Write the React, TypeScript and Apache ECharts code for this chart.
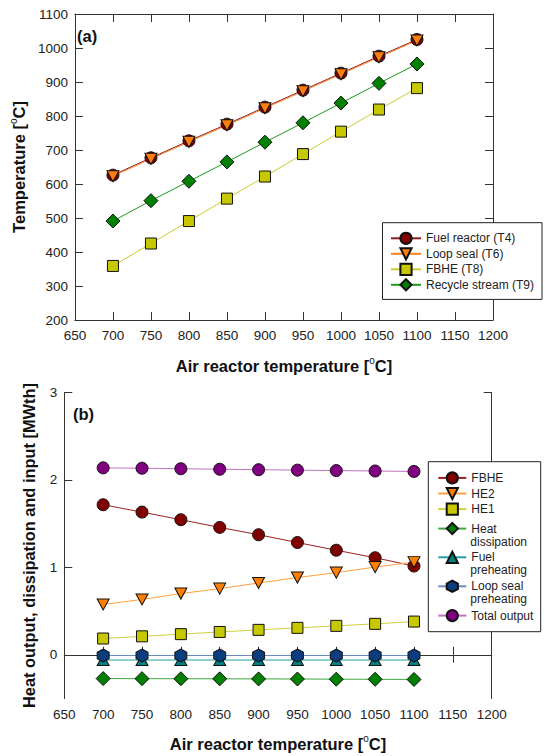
import React, { useEffect, useRef } from 'react';
import * as echarts from 'echarts';

const FONT = '"Liberation Sans", Arial, Helvetica, sans-serif';

// Air reactor temperature (x, °C)
const airTemps = [700, 750, 800, 850, 900, 950, 1000, 1050, 1100];

// (a) temperatures [°C]
const fuelReactorT4 = [626, 677, 727, 776, 826, 876, 926, 976, 1025];
const loopSealT6 = [623, 674, 724, 773, 823, 873, 923, 973, 1022];
const fbheT8 = [359, 425, 491, 557, 622, 688, 754, 819, 882];
const recycleT9 = [491, 551, 608, 665, 723, 780, 838, 896, 953];

// (b) heat output, dissipation and input [MWth]
const fbheHeat = [1.716, 1.632, 1.545, 1.457, 1.373, 1.284, 1.196, 1.11, 1.015];
const he2Heat = [0.576, 0.633, 0.7, 0.757, 0.821, 0.883, 0.94, 1.003, 1.06];
const he1Heat = [0.186, 0.211, 0.236, 0.261, 0.285, 0.308, 0.331, 0.354, 0.38];
const heatDissipation = [-0.272, -0.273, -0.274, -0.275, -0.276, -0.277, -0.279, -0.28, -0.282];
const fuelPreheating = [-0.06, -0.06, -0.06, -0.06, -0.06, -0.06, -0.06, -0.06, -0.06];
const loopSealPreheating = [-0.008, -0.008, -0.008, -0.008, -0.008, -0.008, -0.008, -0.008, -0.008];
const totalOutput = [2.138, 2.134, 2.128, 2.122, 2.117, 2.112, 2.107, 2.102, 2.097];

const xRange = [650, 1200];
const yRangeA = [200, 1100];
const yRangeB = [-0.5, 3];
const yLabelsB = [0, 1, 2, 3];

// legend labels that wrap onto a second line: [series name, first line, second line]
const wrappedLegend: [string, string, string][] = [
  ['Heat dissipation', 'Heat', 'dissipation'],
  ['Fuel preheating', 'Fuel', 'preheating'],
  ['Loop seal preheating', 'Loop seal', 'preheating'],
];

const DOWN_TRI = 'path://M-1,-0.87 L1,-0.87 L0,0.87 Z';
const HEXAGON = 'path://M0,-1 L0.866,-0.5 L0.866,0.5 L0,1 L-0.866,0.5 L-0.866,-0.5 Z';

const pairs = (ys: number[]) => airTemps.map((x, i) => [x, ys[i]]);

const axisLine = { show: true, lineStyle: { color: '#333', width: 1 } };
const axisTick = { show: true, inside: true, length: 8, lineStyle: { color: '#333', width: 1 } };
const labelStyle = { fontSize: 13.5, color: '#222', fontFamily: FONT, formatter: (v: number) => String(v) };
const nameStyle = (size: number) => ({
  fontSize: size,
  fontWeight: 'bold' as const,
  color: '#111',
  fontFamily: FONT,
  rich: {
    sup: { fontSize: 10, fontWeight: 'normal' as const, color: '#111', fontFamily: FONT, padding: [0, 0, 11, 0] },
  },
});

function mkSeries(
  name: string,
  ys: number[],
  xi: number,
  symbol: string,
  size: number | number[],
  fill: string,
  line: string
) {
  return {
    name,
    type: 'line',
    xAxisIndex: xi,
    yAxisIndex: xi,
    data: pairs(ys),
    symbol,
    symbolSize: size,
    showSymbol: true,
    lineStyle: { color: line, width: 1 },
    itemStyle: { color: fill, borderColor: '#111', borderWidth: 1 },
    emphasis: { disabled: true },
  };
}

export default function App() {
  const ref = useRef<HTMLDivElement>(null);
  useEffect(() => {
    if (!ref.current) return;
    const chart = echarts.init(ref.current, null, { renderer: 'svg' });

    const legendText = { fontSize: 12, color: '#222', fontFamily: FONT };
    const bLegendLeft = 437.3;
    const bItemWidth = 28;
    const bLegendBase = {
      orient: 'vertical',
      left: bLegendLeft,
      padding: 0,
      itemGap: 2.4,
      itemWidth: bItemWidth,
      itemHeight: 14,
      z: 6,
      textStyle: legendText,
    };
    // icon centre y positions for the wrapped items
    const wrappedCentres = [529, 557.7, 586.7];
    const wrappedLegends = wrappedLegend.map(([name, first], i) => ({
      ...bLegendBase,
      top: wrappedCentres[i] - 7,
      data: [name],
      formatter: () => first,
    }));
    const wrappedSecondLines = wrappedLegend.map(([, , second], i) => ({
      type: 'text',
      z: 7,
      x: bLegendLeft + bItemWidth + 5,
      y: wrappedCentres[i] + 12.5,
      style: { text: second, fontSize: 12, fill: '#222', fontFamily: FONT, verticalAlign: 'middle' },
    }));

    const option: any = {
      animation: false,
      backgroundColor: '#fff',
      grid: [
        { left: 65, top: 14, width: 428, height: 306 },
        { left: 64.3, top: 392.5, width: 427.4, height: 306 },
      ],
      xAxis: [
        {
          gridIndex: 0, type: 'value', position: 'bottom', min: xRange[0], max: xRange[1], interval: 50,
          axisLine, axisTick, splitLine: { show: false },
          axisLabel: { ...labelStyle, margin: 8 },
          name: 'Air reactor temperature [{sup|o}C]', nameLocation: 'middle', nameGap: 35,
          nameTextStyle: nameStyle(16.5),
        },
        {
          gridIndex: 0, type: 'value', position: 'top', min: xRange[0], max: xRange[1], interval: 50,
          axisLine, axisTick, splitLine: { show: false }, axisLabel: { show: false },
        },
        {
          gridIndex: 1, type: 'value', position: 'bottom', min: xRange[0], max: xRange[1], interval: 50,
          axisLine, axisTick, splitLine: { show: false },
          axisLabel: { ...labelStyle, margin: 9 },
          name: 'Air reactor temperature [{sup|o}C]', nameLocation: 'middle', nameGap: 35,
          nameTextStyle: nameStyle(16.5),
        },
        {
          gridIndex: 1, type: 'value', position: 'top', min: xRange[0], max: xRange[1], interval: 50,
          axisLine, axisTick, splitLine: { show: false }, axisLabel: { show: false },
        },
      ],
      yAxis: [
        {
          gridIndex: 0, type: 'value', position: 'left', min: yRangeA[0], max: yRangeA[1], interval: 100,
          axisLine, axisTick, splitLine: { show: false },
          axisLabel: { ...labelStyle, margin: 7 },
          name: 'Temperature [{sup|o}C]', nameLocation: 'middle', nameGap: 34,
          nameTextStyle: nameStyle(16.5),
        },
        {
          gridIndex: 0, type: 'value', position: 'right', min: yRangeA[0], max: yRangeA[1], interval: 100,
          axisLine, axisTick, splitLine: { show: false }, axisLabel: { show: false },
        },
        {
          gridIndex: 1, type: 'value', position: 'left', min: yRangeB[0], max: yRangeB[1], interval: 0.5,
          axisLine,
          axisTick: { ...axisTick, customValues: yLabelsB },
          splitLine: { show: false },
          axisLabel: { ...labelStyle, margin: 7, customValues: yLabelsB },
          name: 'Heat output, dissipation and input [MWth]', nameLocation: 'middle', nameGap: 27,
          nameTextStyle: { fontSize: 16.4, fontWeight: 'bold', color: '#111', fontFamily: FONT },
        },
        {
          gridIndex: 1, type: 'value', position: 'right', min: yRangeB[0], max: yRangeB[1], interval: 0.5,
          axisLine,
          axisTick: { ...axisTick, customValues: yLabelsB },
          splitLine: { show: false }, axisLabel: { show: false },
        },
      ],
      legend: [
        {
          orient: 'vertical',
          left: 382.5,
          top: 222.7,
          padding: [9, 8, 8, 7.5],
          itemGap: 2.3,
          itemWidth: 30,
          itemHeight: 14,
          borderColor: '#222',
          borderWidth: 1,
          borderRadius: 0,
          backgroundColor: '#fff',
          z: 6,
          textStyle: legendText,
          data: ['Fuel reactor (T4)', 'Loop seal (T6)', 'FBHE (T8)', 'Recycle stream (T9)'],
        },
        { ...bLegendBase, top: 471.3, data: ['FBHE', 'HE2', 'HE1'] },
        ...wrappedLegends,
        { ...bLegendBase, top: 609, data: ['Total output'] },
      ],
      graphic: [
        {
          type: 'rect', z: 5,
          shape: { x: 428.3, y: 461.7, width: 112.4, height: 170 },
          style: { fill: '#fff', stroke: '#222', lineWidth: 1 },
        },
        ...wrappedSecondLines,
        {
          type: 'text', left: 77, top: 27, z: 5,
          style: { text: '(a)', fontSize: 16.5, fontWeight: 'bold', fill: '#111', fontFamily: FONT },
        },
        {
          type: 'text', left: 73, top: 405, z: 5,
          style: { text: '(b)', fontSize: 16.5, fontWeight: 'bold', fill: '#111', fontFamily: FONT },
        },
      ],
      series: [
        mkSeries('Fuel reactor (T4)', fuelReactorT4, 0, 'circle', 12, '#800000', '#8b1c1c'),
        mkSeries('Loop seal (T6)', loopSealT6, 0, DOWN_TRI, [12, 11], '#ff7f0e', '#ff7f24'),
        mkSeries('FBHE (T8)', fbheT8, 0, 'rect', 11, '#c8c800', '#cccc30'),
        mkSeries('Recycle stream (T9)', recycleT9, 0, 'diamond', 14, '#008000', '#1c9a1c'),

        mkSeries('Total output', totalOutput, 2, 'circle', 12, '#800080', '#c070c0'),
        mkSeries('FBHE', fbheHeat, 2, 'circle', 12, '#800000', '#9b2020'),
        mkSeries('HE2', he2Heat, 2, DOWN_TRI, [12, 11], '#ff8000', '#ffa040'),
        mkSeries('HE1', he1Heat, 2, 'rect', 11, '#c8c800', '#d0d040'),
        mkSeries('Heat dissipation', heatDissipation, 2, 'diamond', 14, '#008000', '#40a840'),
        mkSeries('Fuel preheating', fuelPreheating, 2, 'triangle', [12, 11], '#008080', '#20a0a0'),
        mkSeries('Loop seal preheating', loopSealPreheating, 2, HEXAGON, [12, 13], '#0a3d7d', '#6a8cc0'),
      ],
    };
    chart.setOption(option);
    return () => chart.dispose();
  }, []);

  return (
    <div
      ref={ref}
      style={{ position: 'fixed', left: 0, top: 0, width: 545, height: 756, background: '#fff' }}
    />
  );
}
